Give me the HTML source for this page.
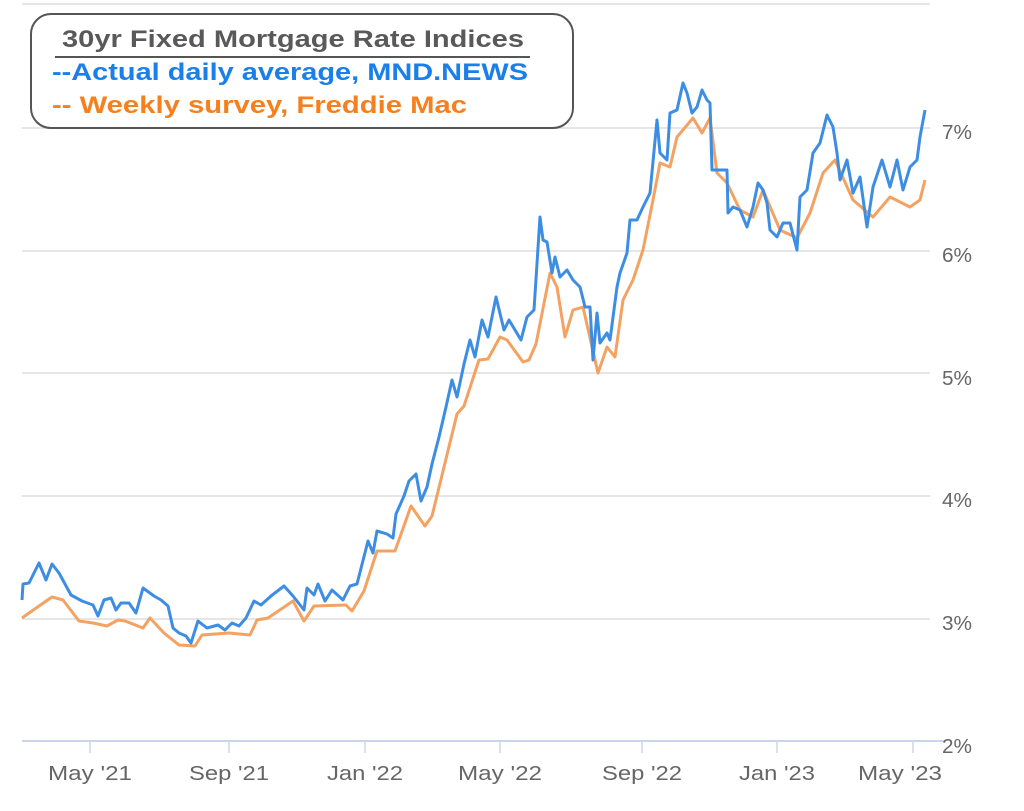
<!DOCTYPE html>
<html><head><meta charset="utf-8"><style>html,body{margin:0;padding:0;background:#fff}svg{display:block}</style></head>
<body>
<svg width="1024" height="811" viewBox="0 0 1024 811" xmlns="http://www.w3.org/2000/svg" font-family="Liberation Sans, DejaVu Sans, sans-serif">
<g stroke="#e6e6e6" stroke-width="2">
<line x1="22" y1="4" x2="930" y2="4"/>
<line x1="22" y1="128" x2="930" y2="128"/>
<line x1="22" y1="251" x2="930" y2="251"/>
<line x1="22" y1="373" x2="930" y2="373"/>
<line x1="22" y1="496" x2="930" y2="496"/>
<line x1="22" y1="619" x2="930" y2="619"/>
</g>
<line x1="22" y1="741" x2="945" y2="741" stroke="#ccd6eb" stroke-width="2"/>
<g stroke="#ccd6eb" stroke-width="1.5">
<line x1="90" y1="741" x2="90" y2="753"/><line x1="229" y1="741" x2="229" y2="753"/><line x1="365" y1="741" x2="365" y2="753"/><line x1="500" y1="741" x2="500" y2="753"/><line x1="642" y1="741" x2="642" y2="753"/><line x1="777" y1="741" x2="777" y2="753"/><line x1="913" y1="741" x2="913" y2="753"/>
</g>
<g fill="#666" font-size="20">
<text x="942" y="139" textLength="30" lengthAdjust="spacingAndGlyphs">7%</text>
<text x="942" y="262" textLength="30" lengthAdjust="spacingAndGlyphs">6%</text>
<text x="942" y="385" textLength="30" lengthAdjust="spacingAndGlyphs">5%</text>
<text x="942" y="507" textLength="30" lengthAdjust="spacingAndGlyphs">4%</text>
<text x="942" y="630" textLength="30" lengthAdjust="spacingAndGlyphs">3%</text>
<text x="942" y="753" textLength="30" lengthAdjust="spacingAndGlyphs">2%</text>
</g>
<g fill="#666" font-size="20" text-anchor="middle">
<text x="90" y="780" textLength="84" lengthAdjust="spacingAndGlyphs">May '21</text>
<text x="229" y="780" textLength="80" lengthAdjust="spacingAndGlyphs">Sep '21</text>
<text x="365" y="780" textLength="76" lengthAdjust="spacingAndGlyphs">Jan '22</text>
<text x="500" y="780" textLength="84" lengthAdjust="spacingAndGlyphs">May '22</text>
<text x="642" y="780" textLength="80" lengthAdjust="spacingAndGlyphs">Sep '22</text>
<text x="777" y="780" textLength="76" lengthAdjust="spacingAndGlyphs">Jan '23</text>
<text x="900" y="780" textLength="84" lengthAdjust="spacingAndGlyphs">May '23</text>
</g>
<polyline fill="none" stroke="#f4a262" stroke-width="3" stroke-linejoin="round" points="22,618 39,606 52,597 63,600 79,621 93,623 107,626 118,620 125,621 143,628 150,618 164,633 179,645 195,646 202,635 229,633 250,635 257,620 268,618 293,601 304,621 314,606 346,605 352,611 364,591 377,551 395,551 411,506 425,526 432,516 457,414 464,406 479,360 488,359 500,337 507,340 523,362 529,360 536,344 550,273 557,287 565,337 573,310 583,307 598,373 607,347 615,357 623,300 633,280 643,250 653,200 660,163 670,167 677,137 693,118 702,133 710,118 717,173 727,183 740,210 753,217 763,190 780,230 797,238 810,213 823,173 835,160 853,200 873,217 890,197 910,207 920,200 925,180"/>
<polyline fill="none" stroke="#3d8ee3" stroke-width="3" stroke-linejoin="round" points="22,600 23,584 29,583 39,563 46,580 52,564 59,573 71,595 82,601 93,605 98,616 104,600 111,598 116,610 121,603 129,603 136,613 143,588 154,596 161,600 168,606 173,628 179,633 186,636 191,643 198,621 207,628 218,625 225,630 232,623 239,626 246,618 254,601 261,605 271,596 284,586 293,596 304,610 307,588 314,595 318,584 325,601 332,590 343,600 350,586 357,584 368,541 373,553 377,531 387,534 393,538 396,514 404,496 409,481 416,474 421,501 427,487 432,464 439,437 446,407 452,380 457,397 464,364 470,340 475,357 482,320 488,337 496,297 504,330 509,320 521,340 527,317 534,310 540,217 543,240 547,242 552,273 555,257 560,277 567,270 573,280 580,287 585,307 590,307 593,360 597,313 600,343 607,333 610,340 617,287 620,273 627,253 630,220 637,220 643,207 650,193 657,120 660,153 667,160 670,113 677,110 683,83 687,93 692,113 697,107 702,90 707,100 710,103 712,170 720,170 727,170 728,213 733,207 740,210 747,227 753,207 758,183 763,190 767,203 770,230 777,237 783,223 790,223 797,250 800,197 807,190 813,153 820,143 827,115 833,127 837,153 840,180 847,160 853,193 860,177 867,227 873,187 882,160 890,187 897,160 903,190 910,167 917,160 920,137 925,110"/>
<rect x="31" y="14" width="542" height="114" rx="20" ry="20" fill="#fff" stroke="#555" stroke-width="2"/>
<text x="62" y="47" font-size="24" font-weight="bold" fill="#595959" textLength="462" lengthAdjust="spacingAndGlyphs">30yr Fixed Mortgage Rate Indices</text>
<line x1="55" y1="57" x2="530" y2="57" stroke="#555" stroke-width="2"/>
<text x="52" y="80" font-size="24" font-weight="bold" fill="#1a7fe8" textLength="476" lengthAdjust="spacingAndGlyphs">--Actual daily average, MND.NEWS</text>
<text x="52" y="113" font-size="24" font-weight="bold" fill="#f5801f" textLength="415" lengthAdjust="spacingAndGlyphs">-- Weekly survey, Freddie Mac</text>
</svg>
</body></html>
